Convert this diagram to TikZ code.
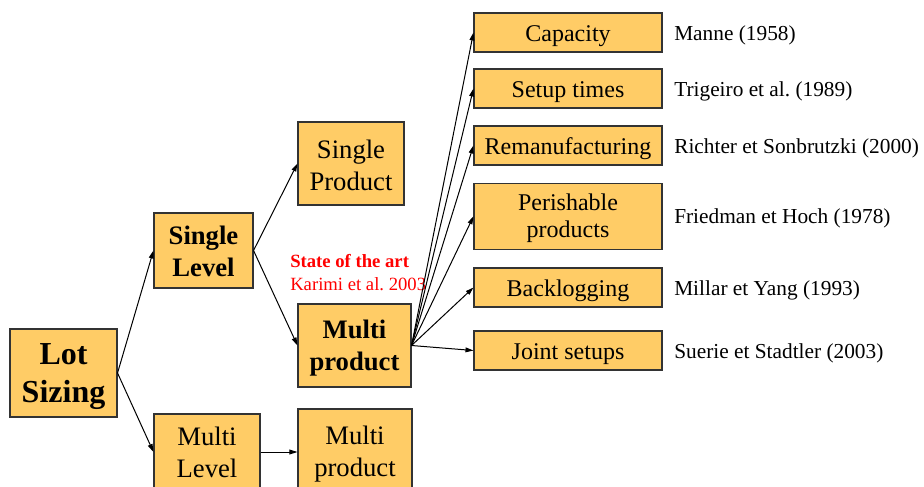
\documentclass[tikz,border=0pt]{standalone}
\usepackage{fontspec}
\setmainfont{Liberation Serif}
\usetikzlibrary{arrows.meta}
\frenchspacing
\definecolor{boxfill}{HTML}{FFCC66}
\definecolor{boxline}{HTML}{333333}
\definecolor{notered}{HTML}{FF0000}
\def\u{0.75pt}
% centred lines, one \baselineskip apart, baseline on the first line
\newcommand\boxlines[1]{\begin{tabular}[t]{@{}c@{}}#1\end{tabular}}
\tikzset{
  box/.style={draw=boxline, fill=boxfill, line width=0.8pt, inner sep=0pt,
              text=black},
  % first baseline sits #1/2 above the box centre
  firstline/.style={text height=0pt, text depth=#1},
  topic/.style={box, font=\fontsize{18}{20}\selectfont,
                minimum width=188*\u, minimum height=39*\u,
                text height=13pt, text depth=0pt},
  ref/.style={anchor=base west, inner sep=0pt, font=\fontsize{16}{19}\selectfont},
  link/.style={line width=0.75pt, -{Triangle[length=6pt,width=3.6pt]}},
}
\begin{document}
\begin{tikzpicture}[x=0.75pt, y=-0.75pt]
\useasboundingbox (0,0) rectangle (924,486);
\clip (0,0) rectangle (924,486);

% tree of lot sizing problems
\node[box, minimum width=107*\u, minimum height=88*\u, firstline=13pt,
      font=\fontsize{24}{28.8}\selectfont\bfseries] (lot) at (63.5,373) {\boxlines{Lot\\Sizing}};
\node[box, minimum width=99*\u, minimum height=75*\u, firstline=9.75pt,
      font=\fontsize{20}{24}\selectfont\bfseries] (sl) at (203.5,250.5) {\boxlines{Single\\Level}};
\node[box, minimum width=106*\u, minimum height=76*\u, firstline=10.5pt,
      font=\fontsize{20}{24}\selectfont] (ml) at (207,452) {\boxlines{Multi\\Level}};
\node[box, minimum width=106*\u, minimum height=83*\u, firstline=8.25pt,
      font=\fontsize{20}{24}\selectfont] (sp) at (351,163.5) {\boxlines{Single\\Product}};
\node[box, minimum width=113*\u, minimum height=83*\u, firstline=11.25pt,
      font=\fontsize{20}{24.7}\selectfont\bfseries] (mp) at (354.5,345.5) {\boxlines{Multi\\product}};
\node[box, minimum width=114*\u, minimum height=86*\u, firstline=11.5pt,
      font=\fontsize{20}{24}\selectfont] (mp2) at (355,452) {\boxlines{Multi\\product}};

% extensions of the multi-product problem
\node[topic] (cap) at (568,32.5) {\boxlines{Capacity}};
\node[topic] (setup) at (568,88.5) {\boxlines{Setup times}};
\node[topic] (reman) at (568,145.5) {\boxlines{Remanufacturing}};
\node[topic, minimum height=66*\u, firstline=8.4pt] (perish) at (568,216.3) {\boxlines{Perishable\\products}};
\node[topic] (back) at (568,287.5) {\boxlines{Backlogging}};
\node[topic] (joint) at (568,350.5) {\boxlines{Joint setups}};

% references
\node[ref] (rcap) at (674,40.7) {Manne (1958)};
\node[ref] (rsetup) at (674,96.7) {Trigeiro et al. (1989)};
\node[ref] (rreman) at (674,153.7) {Richter et Sonbrutzki (2000)};
\node[ref] (rperish) at (674,223.7) {Friedman et Hoch (1978)};
\node[ref] (rback) at (674,295.7) {Millar et Yang (1993)};
\node[ref] (rjoint) at (674,358.7) {Suerie et Stadtler (2003)};

% survey note
\node[anchor=base west, inner sep=0pt, text=notered,
      font=\fontsize{14}{16.5}\selectfont\bfseries] (sota) at (290,267.7) {State of the art};
\node[anchor=base west, inner sep=0pt, text=notered,
      font=\fontsize{14}{16.5}\selectfont] (karimi) at (290,290) {Karimi et al. 2003};

% connectors
\draw[link] (lot.east) -- (sl.west);
\draw[link] (lot.east) -- (ml.west);
\draw[link] (sl.east) -- (sp.west);
\draw[link] (sl.east) -- (mp.west);
\draw[link] (ml.east) -- (mp2.west);
\foreach \t in {cap,setup,reman,perish,back,joint}
  \draw[link] (mp.east) -- (\t.west);
\end{tikzpicture}
\end{document}
